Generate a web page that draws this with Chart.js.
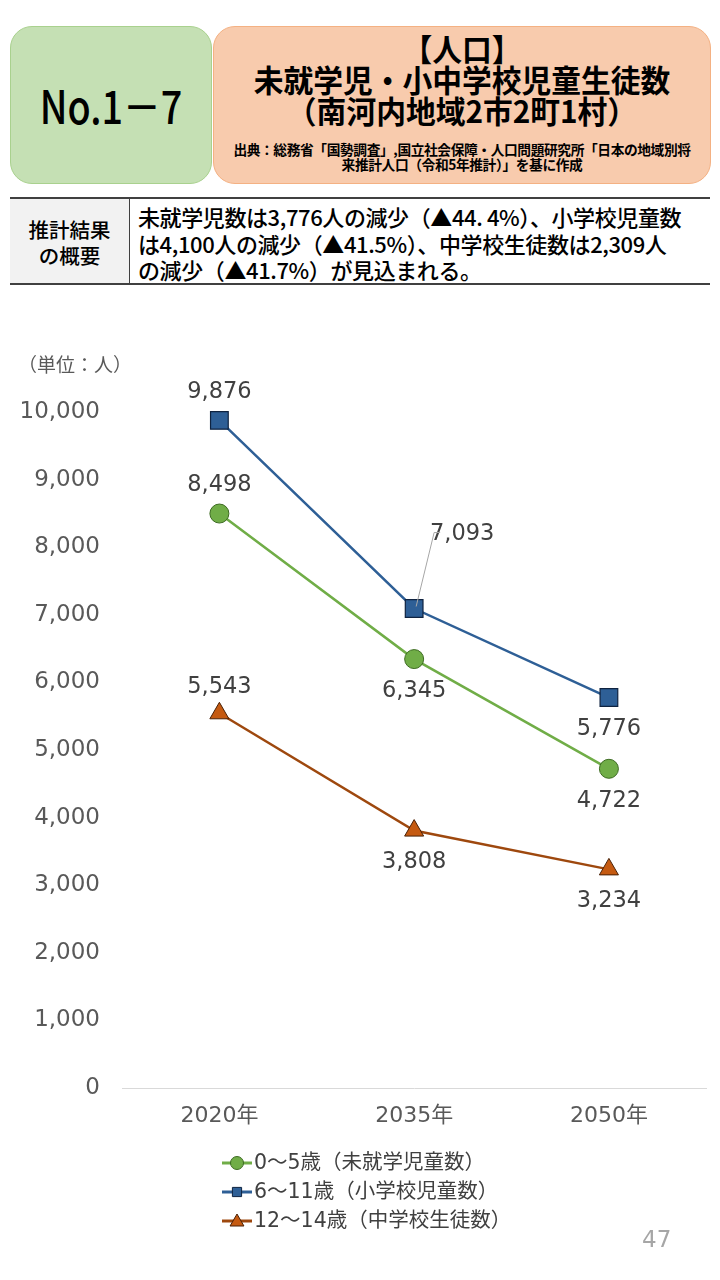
<!DOCTYPE html>
<html><head><meta charset="utf-8">
<script src="https://cdn.jsdelivr.net/npm/chart.js@4/dist/chart.umd.min.js"></script>
<style>
html,body{margin:0;padding:0;background:#fff;width:720px;height:1280px;overflow:hidden;font-family:"Noto Sans CJK JP","Noto Sans",sans-serif;}
.box{position:absolute;box-sizing:border-box;border-radius:22px;}
#g{left:10px;top:26px;width:202px;height:158px;background:#c5e0b4;border:1px solid #a9d18e;}
#o{left:213px;top:26px;width:498px;height:158px;background:#f8cbad;border:1px solid #f4b183;}
.c{position:absolute;left:0;width:100%;text-align:center;white-space:nowrap;color:#000;}
#sum{position:absolute;left:10px;top:197px;width:700px;height:88px;border-top:2px solid #404040;border-bottom:2px solid #404040;box-sizing:border-box;}
#sl{position:absolute;left:0;top:0;width:120px;height:100%;background:#f2f2f2;border-right:1px solid #404040;box-sizing:border-box;}
#chartwrap{position:absolute;left:0;top:300px;width:720px;height:960px;}
</style></head><body>
<div class="box" id="g"><div class="c" style="top:44px;font-size:46px;font-weight:500;transform:scaleX(0.82);">No.1－7</div></div>
<div class="box" id="o">
<div class="c" style="top:5px;font-size:31px;font-weight:700;line-height:31px;transform:scaleX(0.96);">【人口】<br>未就学児・小中学校児童生徒数<br>（南河内地域2市2町1村）</div>
<div class="c" style="top:115px;font-size:14px;font-weight:700;line-height:15px;letter-spacing:-0.4px;transform:scaleX(0.98);">出典：総務省「国勢調査」,国立社会保障・人口問題研究所「日本の地域別将<br>来推計人口（令和5年推計）」を基に作成</div>
</div>
<div id="sum"><div id="sl"><div style="position:absolute;top:17px;width:100%;text-align:center;font-size:20.5px;line-height:26px;font-weight:500;">推計結果<br>の概要</div></div>
<div style="position:absolute;left:128px;top:4px;font-size:22px;line-height:26.5px;white-space:nowrap;letter-spacing:-0.4px;font-weight:500;">未就学児数は3,776人の減少（▲44. 4%）、小学校児童数<br>は4,100人の減少（▲41.5%）、中学校生徒数は2,309人<br>の減少（▲41.7%）が見込まれる。</div></div>
<div id="chartwrap"><canvas id="cv" width="720" height="960"></canvas></div>
<div style="position:absolute;left:642px;top:1226px;font-size:23px;color:#a6a6a6;font-family:'DejaVu Sans',sans-serif;">47</div>
<script>
const categories = ["2020年","2035年","2050年"];
const preschool = [8498, 6345, 4722];
const elementary = [9876, 7093, 5776];
const juniorHigh = [5543, 3808, 3234];
const seriesNames = ["0～5歳（未就学児童数）","6～11歳（小学校児童数）","12～14歳（中学校生徒数）"];
const yTicks = [0,1000,2000,3000,4000,5000,6000,7000,8000,9000,10000];

const fmt = v => v.toLocaleString('en-US');
const FONT = '"DejaVu Sans","Noto Sans CJK JP",sans-serif';
const JFONT = '"Noto Sans CJK JP","Noto Sans",sans-serif';

// label placement per series per point: [dx, dy]
const labelPos = [
  [[0,-28],[0,32],[0,32]],
  [[0,-28],[48,-74],[0,32]],
  [[0,-26],[0,32],[0,32]]
];

const deco = {
  id:'deco',
  afterDatasetsDraw(chart){
    const ctx = chart.ctx;
    ctx.save();
    ctx.font = '22.5px ' + FONT;
    ctx.fillStyle = '#404040';
    ctx.textAlign = 'center';
    ctx.textBaseline = 'middle';
    chart.data.datasets.forEach((ds, di) => {
      const meta = chart.getDatasetMeta(di);
      meta.data.forEach((pt, i) => {
        const [dx, dy] = labelPos[di][i];
        ctx.fillText(fmt(ds.data[i]), pt.x + dx, pt.y + dy);
        if (di === 1 && i === 1) {
          ctx.save();
          ctx.strokeStyle = '#a6a6a6';
          ctx.lineWidth = 1;
          ctx.beginPath();
          ctx.moveTo(pt.x + 2, pt.y - 2);
          ctx.lineTo(pt.x + 20, pt.y + dy - 2);
          ctx.lineTo(pt.x + 26, pt.y + dy - 2);
          ctx.stroke();
          ctx.restore();
        }
      });
    });
    // unit label
    ctx.font = '19px ' + JFONT;
    ctx.fillStyle = '#595959';
    ctx.fillText('（単位：人）', 75, 65);
    // legend
    const ly = [863, 892, 921];
    chart.data.datasets.forEach((ds, di) => {
      const y = ly[di];
      ctx.strokeStyle = ds.borderColor;
      ctx.lineWidth = 3;
      ctx.beginPath(); ctx.moveTo(222, y); ctx.lineTo(252, y); ctx.stroke();
      ctx.fillStyle = ds.pointBackgroundColor;
      ctx.strokeStyle = ds.pointBorderColor;
      ctx.lineWidth = 1;
      Chart.helpers.drawPoint(ctx, {pointStyle: ds.pointStyle, radius: di===2 ? 8 : 6.5, borderWidth: 1}, 237, y + (di===2?1:0));
      ctx.fillStyle = '#404040';
      ctx.font = '20.5px ' + FONT;
      ctx.textAlign = 'left';
      ctx.fillText(seriesNames[di], 254, y + 1);
    });
    ctx.restore();
  }
};

new Chart(document.getElementById('cv'), {
  type: 'line',
  data: {
    labels: categories,
    datasets: [
      {label: seriesNames[0], data: preschool, borderColor:'#70ad47', borderWidth:2.5,
       pointStyle:'circle', pointRadius:9.5, pointHoverRadius:9.5, pointBackgroundColor:'#70ad47', pointBorderColor:'#3d6b22', pointBorderWidth:1, clip:false},
      {label: seriesNames[1], data: elementary, borderColor:'#2e5f96', borderWidth:2.5,
       pointStyle:'rect', pointRadius:12.5, pointHoverRadius:12.5, pointBackgroundColor:'#2e5f96', pointBorderColor:'#0f2340', pointBorderWidth:1.2, clip:false},
      {label: seriesNames[2], data: juniorHigh, borderColor:'#9e480e', borderWidth:2.5,
       pointStyle:'triangle', pointRadius:11, pointHoverRadius:11, pointBackgroundColor:'#c55a11', pointBorderColor:'#4a2106', pointBorderWidth:1, clip:false}
    ]
  },
  options: {
    responsive:false, animation:false, events:[],
    layout:{padding:{top:112,left:0,right:12,bottom:0}},
    plugins:{legend:{display:false}, tooltip:{enabled:false}},
    scales:{
      x:{
        offset:true,
        grid:{display:false, drawTicks:false},
        border:{display:true, color:'#d9d9d9', width:1},
        ticks:{font:{size:22, family:FONT}, color:'#595959', padding:15},
        afterFit(s){ s.height = 172; }
      },
      y:{
        min:0, max:10000,
        afterBuildTicks(s){ s.ticks = yTicks.map(v=>({value:v})); },
        grid:{display:false, drawTicks:false},
        border:{display:false},
        ticks:{font:{size:23, family:FONT}, color:'#595959', padding:22, callback:v=>fmt(v)},
        afterFit(s){ s.width = 122; }
      }
    }
  },
  plugins:[deco]
});
</script>
</body></html>
